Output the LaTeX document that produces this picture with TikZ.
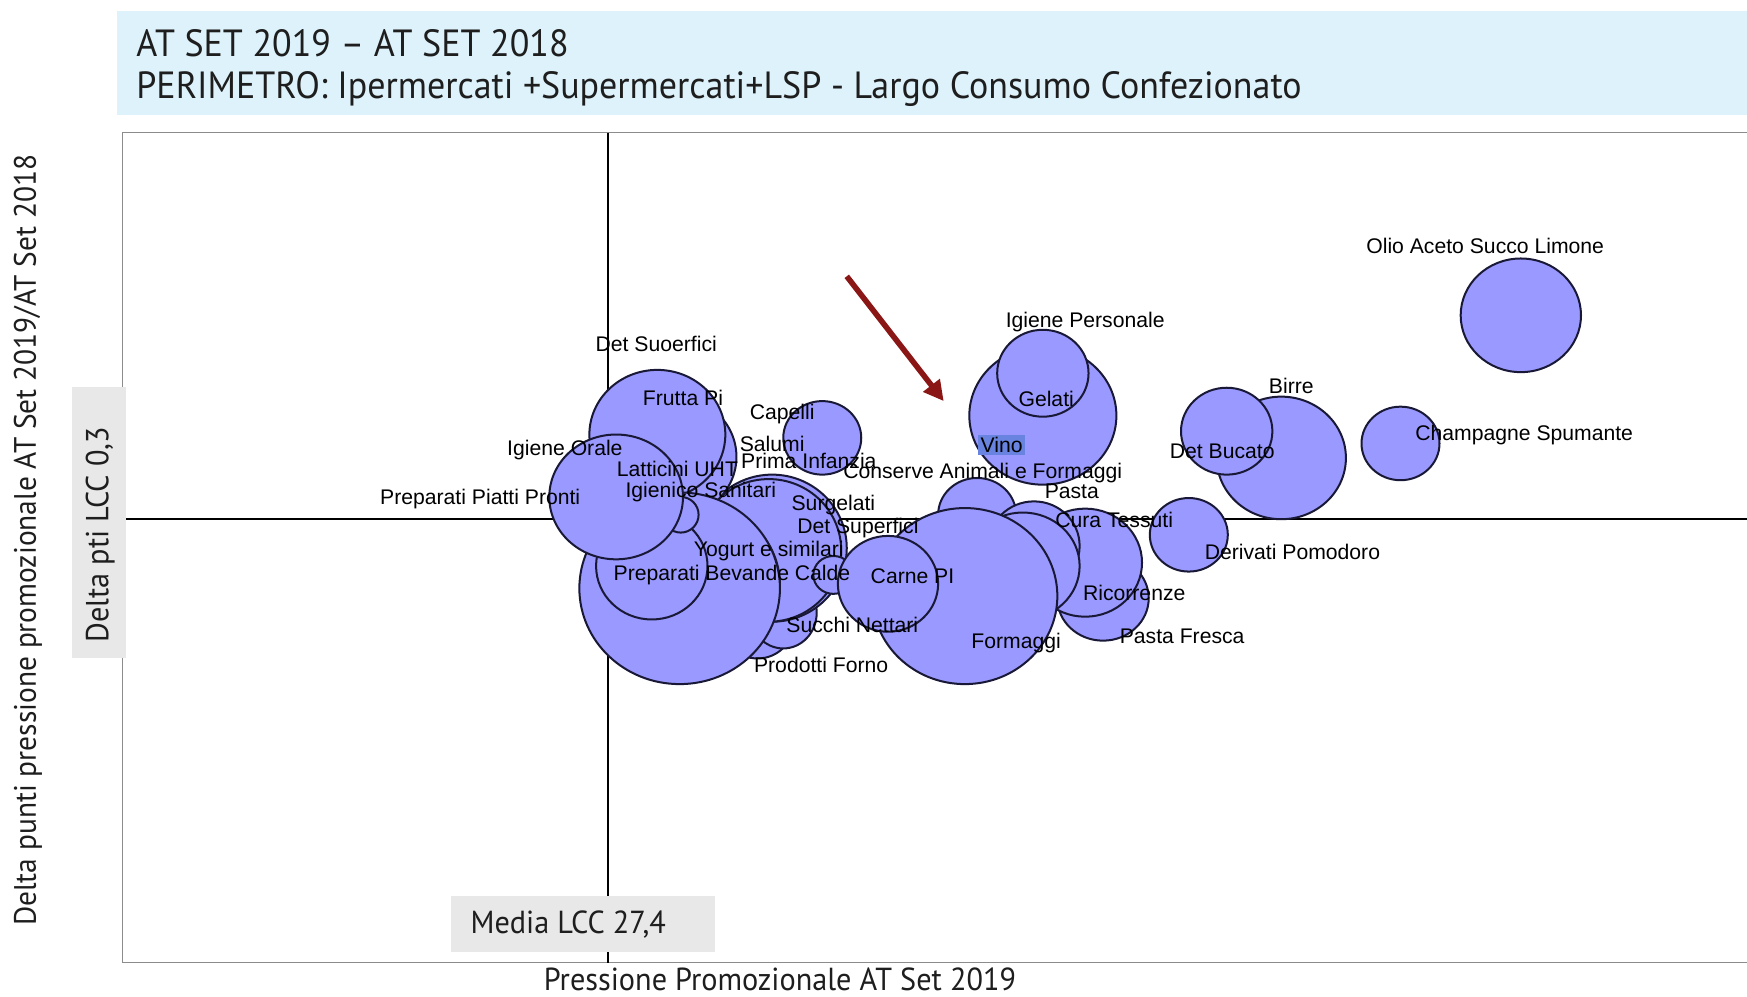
\documentclass[tikz,border=0pt]{standalone}
\usepackage{fontspec}
\setmainfont{Liberation Sans}
\newfontfamily\headfont[FakeStretch=0.95]{PT Sans}
\usetikzlibrary{arrows.meta}

\definecolor{bubblefill}{RGB}{153,153,255}
\definecolor{bubbleline}{RGB}{25,25,55}
\definecolor{bandblue}{RGB}{221,242,251}
\definecolor{boxgrey}{RGB}{232,232,232}
\definecolor{framegrey}{RGB}{140,140,140}
\definecolor{arrowred}{RGB}{139,22,22}
\definecolor{vinohl}{RGB}{104,132,224}
\definecolor{headtext}{RGB}{30,30,30}

\begin{document}
\begin{tikzpicture}[
    x=0.5pt, y=-0.5pt,
    lbl/.style = {inner sep=0pt, font=\fontsize{9.5}{11}\selectfont},
    bubble/.style = {fill=bubblefill, draw=bubbleline, line width=0.9pt},
    head/.style = {inner sep=0pt, anchor=base west, text=headtext, font=\headfont\fontsize{17}{20}\selectfont},
    axis title/.style = {inner sep=0pt, text=headtext, font=\headfont\fontsize{14.3}{16}\selectfont},
    grey box/.style = {fill=boxgrey, draw=none},
    mean line/.style = {line width=0.8pt, black}
]
\useasboundingbox (0,0) rectangle (1568,894);

% Header
\fill[bandblue] (105,10) rectangle (1568,103);
\node[head] at (122, 51) (h1) {AT SET 2019 \textendash{} AT SET 2018};
\node[head] at (122, 88) (h2) {PERIMETRO: Ipermercati +Supermercati+LSP - Largo Consumo Confezionato};

% Plot area
\draw[framegrey, line width=0.7pt] (1568,119) -- (110,119) -- (110,864) -- (1568,864);
\draw[mean line] (546,119) -- (546,864);
\draw[mean line] (113,466) -- (1568,466);
\fill[grey box] (65,347) rectangle (113,591);
\fill[grey box] (405,804) rectangle (642,854);

% Axis titles
\node[axis title] at (700, 879) (xtitle) {Pressione Promozionale AT Set 2019};
\node[axis title, rotate=90, font=\headfont\fontsize{13.9}{16}\selectfont] at (25, 485) (ytitle) {Delta punti pressione promozionale AT Set 2019/AT Set 2018};
\node[axis title, rotate=90] at (90, 480) (ymean) {Delta pti LCC 0,3};
\node[axis title] at (510, 830) (xmean) {Media LCC 27,4};

% Bubbles - right side
\draw[bubble] (1365,283) ellipse (27pt and 25.5pt);
\draw[bubble] (1150,411) ellipse (29pt and 27.5pt);
\draw[bubble] (1101,387) ellipse (20.5pt and 19.5pt);
\draw[bubble] (1257,398) ellipse (17.5pt and 16.5pt);
\draw[bubble] (1067,480) ellipse (17.5pt and 16.5pt);
\draw[bubble] (936,373) ellipse (33pt and 31pt);
\draw[bubble] (936,335) ellipse (20.5pt and 19.5pt);

% Bubbles - centre
\draw[bubble] (990,537) ellipse (20.5pt and 19pt);
\draw[bubble] (974,505) ellipse (25.5pt and 24.25pt);
\draw[bubble] (877,462) ellipse (17.5pt and 16.5pt);
\draw[bubble] (928,490) ellipse (20.5pt and 20pt);
\draw[bubble] (918,508) ellipse (25.5pt and 24pt);
\draw[bubble] (866,535) ellipse (41.5pt and 39.5pt);

% Bubbles - left cluster
\draw[bubble] (680,560) ellipse (16pt and 15.5pt);
\draw[bubble] (703,550) ellipse (15pt and 16pt);
\draw[bubble] (693,492) ellipse (33.5pt and 33pt);
\draw[bubble] (690,494) ellipse (32.5pt and 32pt);
\draw[bubble] (625,525) ellipse (37.5pt and 36.5pt);
\draw[bubble] (748,516) ellipse (9pt and 8.5pt);
\draw[bubble] (797,524) ellipse (22.5pt and 21.5pt);
\draw[bubble] (603,410) ellipse (29pt and 27.5pt);
\draw[bubble] (590,390) ellipse (30.5pt and 29pt);
\draw[bubble] (738,393) ellipse (17.5pt and 16.5pt);
\draw[bubble] (610,528) ellipse (45pt and 43pt);
\draw[bubble] (585,508) ellipse (25pt and 24pt);
\draw[bubble] (611,462) ellipse (8pt and 8pt);
\draw[bubble] (553,446) ellipse (30pt and 28pt);

% Arrow
\coordinate (arrowtail) at (760,248);
\coordinate (arrowtip) at (847,360);
\draw[-{Triangle[length=9pt,width=9pt]}, arrowred, line width=2.5pt] (arrowtail) -- (arrowtip);

% Labels
\node[lbl] at (1333, 221) (olio) {Olio Aceto Succo Limone};
\node[lbl] at (974, 289) (igpers) {Igiene Personale};
\node[lbl] at (939, 358) (gelati) {Gelati};
\node[lbl, fill=vinohl, inner sep=1pt] at (899, 399) (vino) {Vino};
\node[lbl] at (1159, 346) (birre) {Birre};
\node[lbl] at (1097, 405) (detbuc) {Det Bucato};
\node[lbl] at (1368, 390) (champ) {Champagne Spumante};
\node[lbl] at (882, 425) (conserve) {Conserve Animali e Formaggi};
\node[lbl] at (962, 441) (pasta) {Pasta};
\node[lbl] at (1000, 467) (cura) {Cura Tessuti};
\node[lbl] at (1160, 495) (derivati) {Derivati Pomodoro};
\node[lbl] at (1018, 532) (ricor) {Ricorrenze};
\node[lbl] at (1061, 571) (pfresca) {Pasta Fresca};
\node[lbl] at (912, 577) (formaggi) {Formaggi};
\node[lbl] at (819, 517) (carne) {Carne PI};
\node[lbl] at (765, 561) (succhi) {Succhi Nettari};
\node[lbl] at (737, 597) (forno) {Prodotti Forno};
\node[lbl] at (770, 474) (detsup) {Det Superfici};
\node[lbl] at (748, 453) (surg) {Surgelati};
\node[lbl] at (690, 495) (yogurt) {Yogurt e similari};
\node[lbl] at (657, 516) (bevande) {Preparati Bevande Calde};
\node[lbl] at (431, 448) (piatti) {Preparati Piatti Pronti};
\node[lbl] at (629, 442) (igsan) {Igienico Sanitari};
\node[lbl] at (608, 421) (latt) {Latticini UHT};
\node[lbl] at (726, 414) (prima) {Prima Infanzia};
\node[lbl] at (507, 404) (orale) {Igiene Orale};
\node[lbl] at (693, 398) (salumi) {Salumi};
\node[lbl] at (702, 372) (capelli) {Capelli};
\node[lbl] at (613, 357) (frutta) {Frutta Pi};
\node[lbl] at (589, 309) (detsuo) {Det Suoerfici};

\end{tikzpicture}
\end{document}
